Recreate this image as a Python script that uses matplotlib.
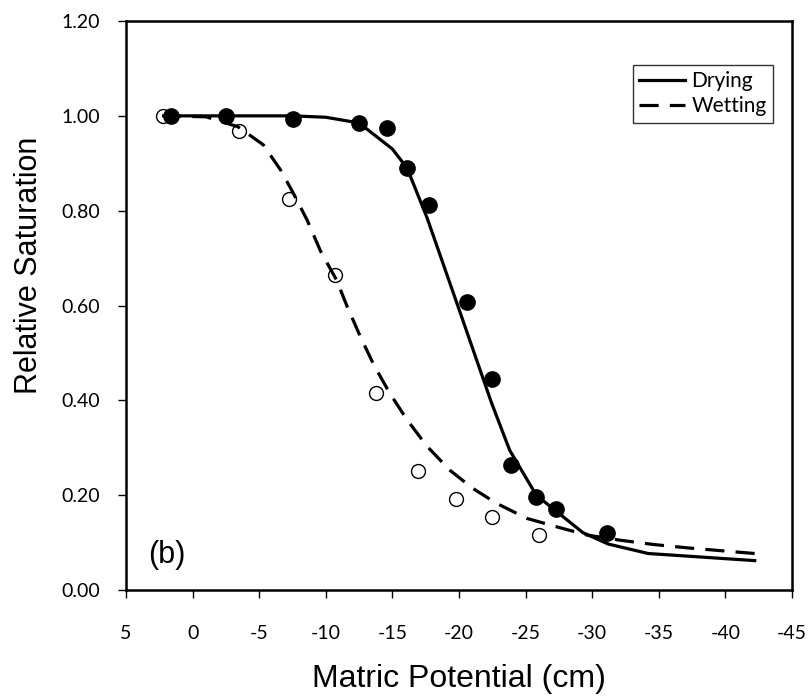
import matplotlib
matplotlib.use("Agg")
import matplotlib.pyplot as plt

# measured points
dry_x = [1.6, -2.5, -7.5, -12.5, -14.6, -16.1, -17.75, -20.6, -22.5, -23.9, -25.8, -27.3, -31.1]
dry_y = [1.00, 1.00, 0.994, 0.984, 0.975, 0.891, 0.812, 0.608, 0.446, 0.264, 0.197, 0.171, 0.121]
wet_x = [2.25, -3.5, -7.2, -10.7, -13.8, -16.95, -19.8, -22.5, -26.0]
wet_y = [1.00, 0.968, 0.824, 0.664, 0.415, 0.252, 0.191, 0.153, 0.116]

# fitted curves
dry_fit_x = [2.0, -2.5, -7.5, -10.0, -12.5, -15.0, -16.1, -17.6, -20.0, -22.45, -23.8,
             -25.8, -29.3, -31.2, -34.2, -42.2]
dry_fit_y = [1.0, 1.0, 1.0, 0.997, 0.985, 0.93, 0.89, 0.785, 0.592, 0.394, 0.295,
             0.2, 0.121, 0.097, 0.077, 0.062]
wet_fit_x = [2.3, -1.0, -3.4, -5.3, -6.6, -7.5, -8.6, -9.6, -10.8, -11.6, -12.6, -13.6,
             -14.8, -16.1, -17.6, -19.3, -21.0, -22.8, -25.1, -27.5, -29.6, -32.1,
             -34.6, -37.1, -42.2]
wet_fit_y = [1.0, 0.998, 0.977, 0.939, 0.886, 0.84, 0.78, 0.715, 0.654, 0.598, 0.534,
             0.475, 0.415, 0.359, 0.303, 0.253, 0.215, 0.183, 0.151, 0.132, 0.116,
             0.105, 0.096, 0.089, 0.077]

x_ticks = [5, 0, -5, -10, -15, -20, -25, -30, -35, -40, -45]
y_ticks = [0.0, 0.2, 0.4, 0.6, 0.8, 1.0, 1.2]

fig = plt.figure(figsize=(8.12, 6.98), dpi=100)
ax = fig.add_axes([0.1552, 0.1547, 0.8202, 0.8152])

ax.plot(wet_x, wet_y, 'o', ms=10, mfc='white', mec='black', mew=1.0, zorder=3)
ax.plot(dry_x, dry_y, 'o', ms=11, mfc='black', mec='black', zorder=3)
ax.plot(dry_fit_x, dry_fit_y, '-', color='black', lw=2.3, label='Drying', zorder=4)
ax.plot(wet_fit_x, wet_fit_y, '--', color='black', lw=2.3, dashes=(6, 3.5),
        label='Wetting', zorder=4)

ax.set_xlim(5, -45)
ax.set_ylim(0, 1.2)
ax.set_xticks(x_ticks)
ax.set_xticklabels([str(v) for v in x_ticks])
ax.set_yticks(y_ticks)
ax.set_yticklabels(['%.2f' % v for v in y_ticks])
ax.tick_params(direction='out', length=6, width=1, labelsize=14)
ax.xaxis.set_tick_params(pad=19)
ax.yaxis.set_tick_params(pad=13)
for lab in ax.get_xticklabels() + ax.get_yticklabels():
    lab.set_fontfamily('Lato')
for sp in ax.spines.values():
    sp.set_linewidth(1.8)

fig.text(0.5653, 1 - 687 / 698, 'Matric Potential (cm)', fontsize=23,
         family='Liberation Sans', ha='center', va='baseline')
fig.text(29 / 812, 1 - 265 / 698, 'Relative Saturation', fontsize=22,
         family='Liberation Sans', ha='center', va='center', rotation=90)

ax.text(0.033, 0.0615, '(b)', transform=ax.transAxes, fontsize=22,
        family='Liberation Sans', va='center', ha='left')

leg = ax.legend(loc='upper right', bbox_to_anchor=(0.9715, 0.9227), borderaxespad=0,
                frameon=True, fancybox=False, edgecolor='black', handlelength=2.2,
                handletextpad=0.3, prop={'family': 'Lato', 'size': 15},
                borderpad=0.3, labelspacing=0.25)
leg.get_frame().set_linewidth(1.0)

fig.savefig('out.png', dpi=100)
